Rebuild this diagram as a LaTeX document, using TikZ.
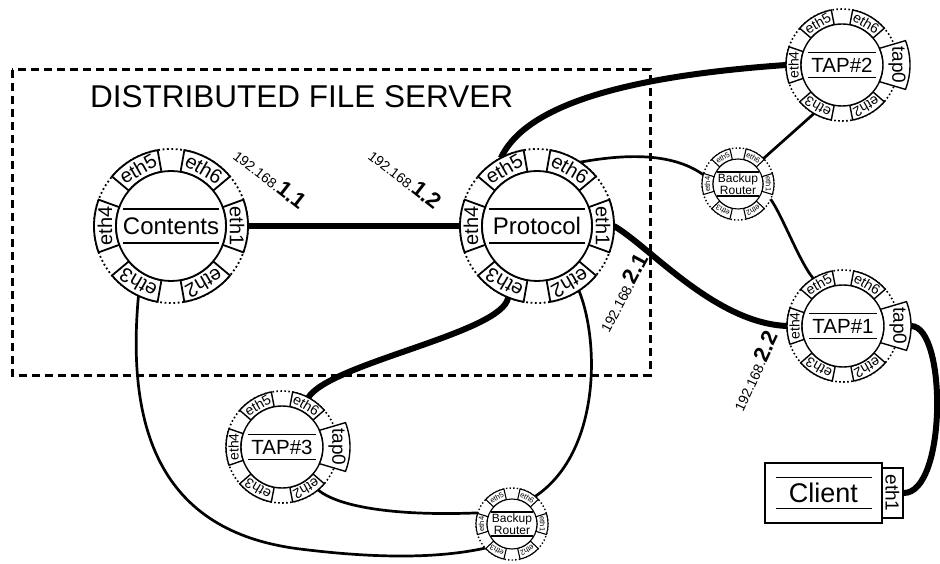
\documentclass[tikz,border=0pt]{standalone}
\usepackage{fontspec}
\setmainfont{Liberation Sans}
\usetikzlibrary{calc}
\pgfdeclarelayer{bg}
\pgfsetlayers{bg,main}
\newcommand\fsz[1]{\fontsize{#1}{#1}\selectfont}
\tikzset{
 ringnode/.style={circle, inner sep=0pt, outer sep=0pt, draw=none},
 Adots/.style={line width=1.8pt, dash pattern=on 1.8pt off 2.6pt},
 Atab/.style={line width=1.8pt, fill=white},
 Aport/.style={inner sep=0pt, font=\fsz{20}},
 Alab/.style={inner sep=0pt, font=\fsz{24}},
 Aline/.style={line width=2pt},
 Bdots/.style={line width=1.6pt, dash pattern=on 1.6pt off 2.4pt},
 Btab/.style={line width=1.4pt, fill=white},
 Bport/.style={inner sep=0pt, font=\fsz{14}},
 Blab/.style={inner sep=0pt, font=\fsz{20.5}},
 Bline/.style={line width=1.8pt},
 Btap/.style={inner sep=0pt, font=\fsz{19}},
 Cdots/.style={line width=1.4pt, dash pattern=on 1.4pt off 2.2pt},
 Ctab/.style={line width=1.1pt, fill=white},
 Cport/.style={inner sep=0pt, font=\fsz{7.5}},
 Clab/.style={inner sep=0pt, align=center, font=\fontsize{12}{10.5}\selectfont},
 Cline/.style={line width=1.3pt},
 thickc/.style={line width=6pt},
 thinc/.style={line width=2.7pt},
 dashbox/.style={line width=3pt, dash pattern=on 8pt off 5pt},
 iplab/.style={inner sep=0pt, anchor=base west},
 boxstyle/.style={draw, line width=1.6pt, inner sep=0pt, fill=white},
}
% #1 name, #2 label, #3 port list, #4 style prefix
\newcommand\drawring[4]{%
  \fill[white] (#1.center) circle[radius=\ro];
  \draw[#4dots] (#1.center) circle[radius=\ro];
  \foreach \ang/\pn in {#3}{%
    \draw[#4tab] ([shift={(\ang-\ha:\ri)}]#1.center) arc[start angle=\ang-\ha, end angle=\ang+\ha, radius=\ri] -- ([shift={(\ang+\ha:\ro)}]#1.center) arc[start angle=\ang+\ha, end angle=\ang-\ha, radius=\ro] -- cycle;
    \node[#4port, rotate=\ang-90] at ([shift={(\ang:\rmid)}]#1.center) {\pn};
  }
  \draw[#4tab] (#1.center) circle[radius=\ri];
  \node[#4lab] at (#1.center) {#2};
  \draw[#4line] ([shift={(-\lw,\lh)}]#1.center) -- ([shift={(\lw,\lh)}]#1.center);
  \draw[#4line] ([shift={(-\lw,-\lh)}]#1.center) -- ([shift={(\lw,-\lh)}]#1.center);
}
\newcommand\tapzero[1]{%
  \draw[Btab] ([shift={(-24:\ri)}]#1.center) arc[start angle=-24, end angle=24, radius=\ri] -- ([shift={(21:68)}]#1.center) arc[start angle=21, end angle=-21, radius=68] -- cycle;
  \node[Btap, rotate=-90] at ([shift={(0:55)}]#1.center) {tap0};
  \coordinate (#1tap) at ([xshift=68pt]#1.center);
}
\begin{document}
\begin{tikzpicture}[x=1pt,y=1pt]
\useasboundingbox (0,0) rectangle (940,563);
% ---- nodes
\node[ringnode, minimum size=154pt] (C) at (171,337) {};
\node[ringnode, minimum size=154pt] (P) at (537,337) {};
\node[ringnode, minimum size=112pt] (T2) at (842,498) {};
\node[ringnode, minimum size=112pt] (T1) at (843,237) {};
\node[ringnode, minimum size=112pt] (T3) at (282,116) {};
\node[ringnode, minimum size=72pt] (B1) at (738,379) {};
\node[ringnode, minimum size=72pt] (B2) at (512,39) {};

\def\ri{55}\def\ro{77}\def\ha{20}\def\rmid{66}\def\lw{48}\def\lh{17}
\drawring{C}{Contents}{0/eth1,60/eth6,120/eth5,180/eth4,240/eth3,300/eth2}{A}
\drawring{P}{Protocol}{0/eth1,60/eth6,120/eth5,180/eth4,240/eth3,300/eth2}{A}

\def\ri{41}\def\ro{56}\def\ha{19}\def\rmid{48.5}\def\lw{34}\def\lh{12.5}
\drawring{T2}{TAP\#2}{60/eth6,120/eth5,180/eth4,240/eth3,300/eth2}{B}
\tapzero{T2}
\drawring{T1}{TAP\#1}{60/eth6,120/eth5,180/eth4,240/eth3,300/eth2}{B}
\tapzero{T1}
\drawring{T3}{TAP\#3}{60/eth6,120/eth5,180/eth4,240/eth3,300/eth2}{B}
\tapzero{T3}

\def\ri{25}\def\ro{36}\def\ha{17}\def\rmid{30.5}\def\lw{21}\def\lh{12}
\drawring{B1}{Backup\\Router}{0/eth1,60/eth6,120/eth5,180/eth4,240/eth3,300/eth2}{C}
\drawring{B2}{Backup\\Router}{0/eth1,60/eth6,120/eth5,180/eth4,240/eth3,300/eth2}{C}

% client
\node[boxstyle, minimum width=117pt, minimum height=60pt] (CL) at (823.5,70) {};
\node[inner sep=0pt, font=\fsz{27}] (CLt) at (CL.center) {Client};
\draw[line width=1.8pt] ([shift={(-48,15.5)}]CL.center) -- ([shift={(48,15.5)}]CL.center);
\draw[line width=1.8pt] ([shift={(-48,-15.5)}]CL.center) -- ([shift={(48,-15.5)}]CL.center);
\node[boxstyle, line width=1.4pt, minimum width=21pt, minimum height=50pt] (CLe) at (892.5,70) {};
\node[inner sep=0pt, font=\fsz{19}, rotate=-90] (CLet) at (CLe.center) {eth1};

% title and addresses
\node[inner sep=0pt, anchor=base west, font=\fsz{31.5}] (title) at (90,455) {DISTRIBUTED FILE SERVER};
\node[iplab, rotate=-38] (ip11) at (232,405) {\fsz{14}192.168.\fsz{22}\bfseries 1.1};
\node[iplab, rotate=-38] (ip12) at (367,405) {\fsz{14}192.168.\fsz{22}\bfseries 1.2};
\node[iplab, rotate=62] (ip21) at (609,229) {\fsz{14}192.168.\fsz{22}\bfseries 2.1};
\node[iplab, rotate=65] (ip22) at (743,150) {\fsz{14}192.168.\fsz{22}\bfseries 2.2};

% ---- connectors
\coordinate (cb) at (300,14);
\begin{pgfonlayer}{bg}
\fill[white] (0,0) rectangle (940,563);
\draw[dashbox] (12,493) rectangle (650,188);
\draw[thickc] (C.0) -- (P.180);
\draw[thickc] (P.118) .. controls (522,450) and (600,485) .. (T2.180);
\draw[thinc] (P.56) .. controls (620,408) and (670,412) .. (B1.165);
\draw[thinc] (B1.45) -- (T2.-120);
\draw[thinc] (B1.-25) .. controls (782,348) and (800,300) .. (T1.122);
\draw[thickc] (P.0) .. controls (650,316) and (715,240) .. (T1.180);
\draw[thickc] (T1tap) .. controls (947,237) and (947,70) .. (CLe.east);
\draw[thickc] (P.-112) .. controls (503,230) and (330,200) .. (T3.62);
\draw[thinc] (P.-57) .. controls (600,220) and (600,110) .. (B2.50);
\draw[thinc] (T3.-50) .. controls (340,55) and (400,47) .. (B2.162);
\draw[thinc] (C.-115) .. controls (125,120) and (170,30) .. (cb) .. controls (380,4) and (440,5) .. (B2.-138);
\end{pgfonlayer}
\end{tikzpicture}
\end{document}
